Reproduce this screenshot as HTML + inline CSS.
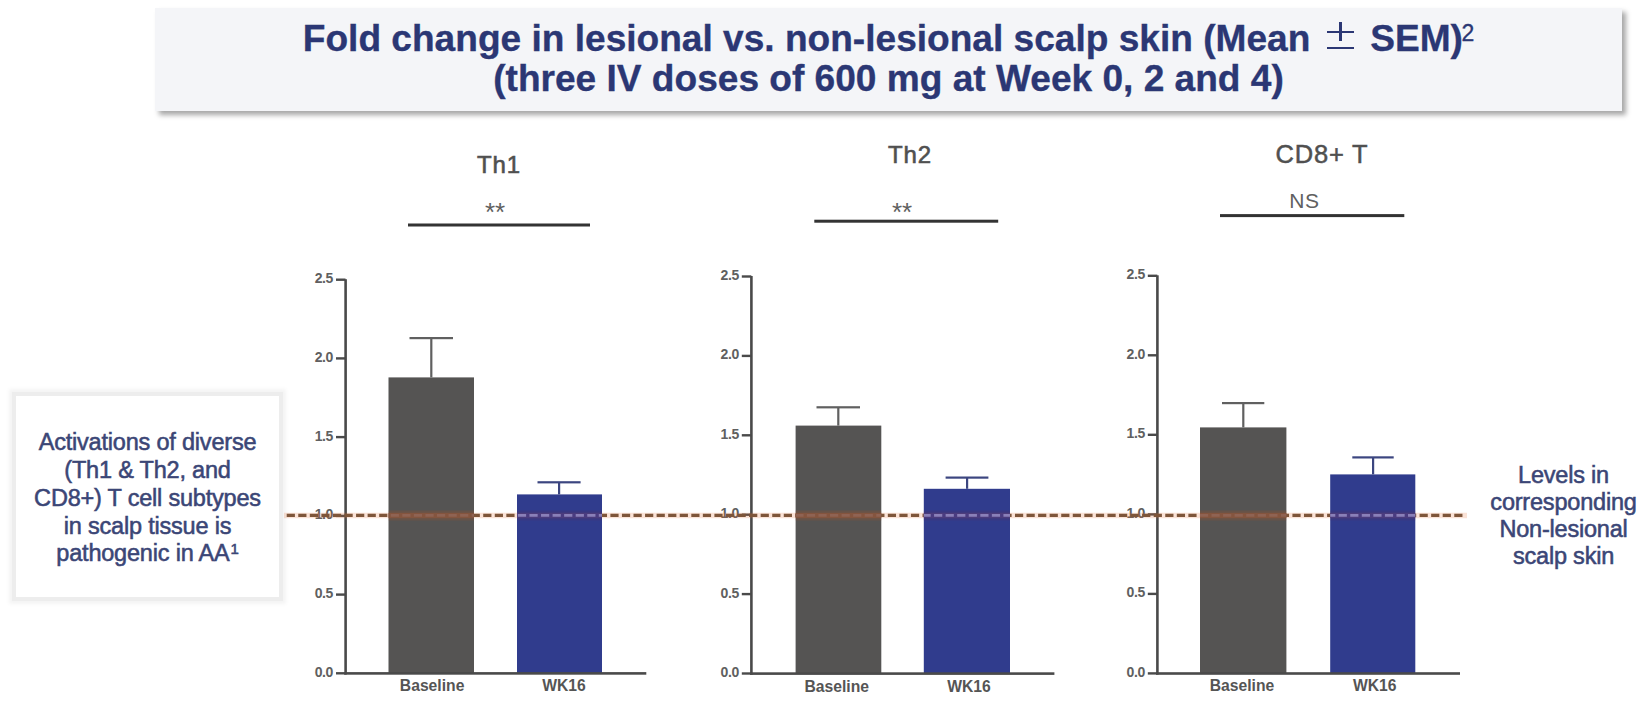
<!DOCTYPE html>
<html><head><meta charset="utf-8">
<style>
html,body{margin:0;padding:0;background:#fff;}
body{width:1647px;height:704px;position:relative;overflow:hidden;font-family:"Liberation Sans",sans-serif;}
#title{position:absolute;left:155px;top:8px;width:1467px;height:103px;background:#f4f5f8;box-shadow:4px 4px 5px rgba(0,0,0,0.35);}
#title .l{position:absolute;left:0;width:100%;text-align:center;font-weight:bold;font-size:37.1px;color:#2b3774;-webkit-text-stroke:0.35px #2b3774;white-space:nowrap;line-height:40px;}
#lbox{position:absolute;left:16px;top:396px;width:263px;height:201px;background:#fff;box-shadow:0 0 0 4px #ededed,0 0 4px 7px #f4f4f4;}
.bt{position:absolute;text-align:center;color:#3b4676;-webkit-text-stroke:0.55px #3b4676;font-size:23.5px;letter-spacing:-0.2px;white-space:nowrap;line-height:27.8px;}
svg{position:absolute;left:0;top:0;}
.pm{display:inline-block;position:relative;width:26.7px;height:29px;margin-left:17px;margin-right:16.2px;vertical-align:baseline;}
.pm i{position:absolute;background:#2b3774;}
.sup{font-weight:normal;font-size:23px;vertical-align:baseline;position:relative;top:-10.5px;margin-left:-1.5px;}
</style></head><body>
<div id="title">
<div class="l" style="top:10px;">Fold change in lesional vs. non-lesional scalp skin (Mean<span class="pm"><i style="left:0;top:8.8px;width:26.7px;height:2.5px;"></i><i style="left:12.1px;top:0.3px;width:2.5px;height:18.8px;"></i><i style="left:0;top:24.8px;width:26.7px;height:2.5px;"></i></span>SEM)<span class="sup">2</span></div>
<div class="l" style="top:49.5px;">(three IV doses of 600 mg at Week 0, 2 and 4)</div>
</div>
<div id="lbox"></div>
<div class="bt" style="left:16px;width:263px;top:429.3px;">Activations of diverse<br>(Th1 &amp; Th2, and<br>CD8+) T cell subtypes<br>in scalp tissue is<br>pathogenic in AA<span style="font-size:15px;position:relative;top:-7px;margin-left:1px;">1</span></div>
<div class="bt" style="left:1480px;width:167px;top:461.5px;line-height:27.3px;">Levels in<br>corresponding<br>Non-lesional<br>scalp skin</div>
<svg width="1647" height="704" viewBox="0 0 1647 704" font-family="Liberation Sans">
<rect x="388.5" y="377.4" width="85.5" height="295.9" fill="#555453"/>
<rect x="517.0" y="494.4" width="85.0" height="178.9" fill="#303c8d"/>
<rect x="409.5" y="337.0" width="43.5" height="2.2" fill="#606060"/>
<rect x="430.2" y="338.0" width="2.2" height="39.4" fill="#606060"/>
<rect x="537.5" y="481.2" width="43.1" height="2.2" fill="#3c4680"/>
<rect x="558.0" y="482.2" width="2.2" height="12.2" fill="#3c4680"/>
<rect x="344.3" y="279.2" width="2.6" height="395.3" fill="#4a4a4a"/>
<rect x="344.3" y="672.1" width="302.0" height="2.6" fill="#4a4a4a"/>
<rect x="336.0" y="278.5" width="9.5" height="2.4" fill="#4a4a4a"/>
<text x="333.0" y="283.1" font-size="14" letter-spacing="-0.4" font-weight="bold" text-anchor="end" fill="#606060">2.5</text>
<rect x="336.0" y="357.2" width="9.5" height="2.4" fill="#4a4a4a"/>
<text x="333.0" y="361.8" font-size="14" letter-spacing="-0.4" font-weight="bold" text-anchor="end" fill="#606060">2.0</text>
<rect x="336.0" y="435.9" width="9.5" height="2.4" fill="#4a4a4a"/>
<text x="333.0" y="440.5" font-size="14" letter-spacing="-0.4" font-weight="bold" text-anchor="end" fill="#606060">1.5</text>
<rect x="336.0" y="514.7" width="9.5" height="2.4" fill="#4a4a4a"/>
<text x="333.0" y="519.3" font-size="14" letter-spacing="-0.4" font-weight="bold" text-anchor="end" fill="#606060">1.0</text>
<rect x="336.0" y="593.4" width="9.5" height="2.4" fill="#4a4a4a"/>
<text x="333.0" y="598.0" font-size="14" letter-spacing="-0.4" font-weight="bold" text-anchor="end" fill="#606060">0.5</text>
<rect x="336.0" y="672.1" width="9.5" height="2.4" fill="#4a4a4a"/>
<text x="333.0" y="676.7" font-size="14" letter-spacing="-0.4" font-weight="bold" text-anchor="end" fill="#606060">0.0</text>
<text x="432.1" y="691.3" font-size="15.7" font-weight="bold" text-anchor="middle" fill="#555">Baseline</text>
<text x="564.0" y="691.3" font-size="15.7" font-weight="bold" text-anchor="middle" fill="#555">WK16</text>
<text x="499" y="172.5" font-size="24" font-weight="normal" letter-spacing="0.8" text-anchor="middle" fill="#505050" stroke="#505050" stroke-width="0.6">Th1</text>
<text x="495" y="221" font-size="26" letter-spacing="0" text-anchor="middle" fill="#606060">**</text>
<rect x="408" y="223.5" width="182.0" height="3" fill="#333"/>
<rect x="795.6" y="425.6" width="85.7" height="247.9" fill="#555453"/>
<rect x="923.8" y="488.8" width="86.2" height="184.7" fill="#303c8d"/>
<rect x="816.5" y="406.2" width="43.5" height="2.2" fill="#606060"/>
<rect x="837.2" y="407.2" width="2.2" height="18.4" fill="#606060"/>
<rect x="945.6" y="476.5" width="42.8" height="2.2" fill="#3c4680"/>
<rect x="966.0" y="477.5" width="2.2" height="11.3" fill="#3c4680"/>
<rect x="750.1" y="276.0" width="2.6" height="398.7" fill="#4a4a4a"/>
<rect x="750.1" y="672.3" width="304.3" height="2.6" fill="#4a4a4a"/>
<rect x="741.8" y="275.3" width="9.5" height="2.4" fill="#4a4a4a"/>
<text x="738.8" y="279.9" font-size="14" letter-spacing="-0.4" font-weight="bold" text-anchor="end" fill="#606060">2.5</text>
<rect x="741.8" y="354.7" width="9.5" height="2.4" fill="#4a4a4a"/>
<text x="738.8" y="359.3" font-size="14" letter-spacing="-0.4" font-weight="bold" text-anchor="end" fill="#606060">2.0</text>
<rect x="741.8" y="434.1" width="9.5" height="2.4" fill="#4a4a4a"/>
<text x="738.8" y="438.7" font-size="14" letter-spacing="-0.4" font-weight="bold" text-anchor="end" fill="#606060">1.5</text>
<rect x="741.8" y="513.5" width="9.5" height="2.4" fill="#4a4a4a"/>
<text x="738.8" y="518.1" font-size="14" letter-spacing="-0.4" font-weight="bold" text-anchor="end" fill="#606060">1.0</text>
<rect x="741.8" y="592.9" width="9.5" height="2.4" fill="#4a4a4a"/>
<text x="738.8" y="597.5" font-size="14" letter-spacing="-0.4" font-weight="bold" text-anchor="end" fill="#606060">0.5</text>
<rect x="741.8" y="672.3" width="9.5" height="2.4" fill="#4a4a4a"/>
<text x="738.8" y="676.9" font-size="14" letter-spacing="-0.4" font-weight="bold" text-anchor="end" fill="#606060">0.0</text>
<text x="836.7" y="691.5" font-size="15.7" font-weight="bold" text-anchor="middle" fill="#555">Baseline</text>
<text x="969.0" y="691.5" font-size="15.7" font-weight="bold" text-anchor="middle" fill="#555">WK16</text>
<text x="910" y="163" font-size="24" font-weight="normal" letter-spacing="0.8" text-anchor="middle" fill="#505050" stroke="#505050" stroke-width="0.6">Th2</text>
<text x="902" y="221" font-size="26" letter-spacing="0" text-anchor="middle" fill="#606060">**</text>
<rect x="814.3" y="219.7" width="183.9" height="3" fill="#333"/>
<rect x="1200.0" y="427.4" width="86.4" height="246.0" fill="#555453"/>
<rect x="1330.2" y="474.4" width="85.1" height="199.0" fill="#303c8d"/>
<rect x="1222.0" y="402.0" width="42.3" height="2.2" fill="#606060"/>
<rect x="1242.2" y="403.0" width="2.2" height="24.4" fill="#606060"/>
<rect x="1352.3" y="456.3" width="41.4" height="2.2" fill="#3c4680"/>
<rect x="1372.0" y="457.3" width="2.2" height="17.1" fill="#3c4680"/>
<rect x="1156.1" y="275.3" width="2.6" height="399.3" fill="#4a4a4a"/>
<rect x="1156.1" y="672.2" width="303.9" height="2.6" fill="#4a4a4a"/>
<rect x="1147.8" y="274.6" width="9.5" height="2.4" fill="#4a4a4a"/>
<text x="1144.8" y="279.2" font-size="14" letter-spacing="-0.4" font-weight="bold" text-anchor="end" fill="#606060">2.5</text>
<rect x="1147.8" y="354.1" width="9.5" height="2.4" fill="#4a4a4a"/>
<text x="1144.8" y="358.7" font-size="14" letter-spacing="-0.4" font-weight="bold" text-anchor="end" fill="#606060">2.0</text>
<rect x="1147.8" y="433.6" width="9.5" height="2.4" fill="#4a4a4a"/>
<text x="1144.8" y="438.2" font-size="14" letter-spacing="-0.4" font-weight="bold" text-anchor="end" fill="#606060">1.5</text>
<rect x="1147.8" y="513.2" width="9.5" height="2.4" fill="#4a4a4a"/>
<text x="1144.8" y="517.8" font-size="14" letter-spacing="-0.4" font-weight="bold" text-anchor="end" fill="#606060">1.0</text>
<rect x="1147.8" y="592.7" width="9.5" height="2.4" fill="#4a4a4a"/>
<text x="1144.8" y="597.3" font-size="14" letter-spacing="-0.4" font-weight="bold" text-anchor="end" fill="#606060">0.5</text>
<rect x="1147.8" y="672.2" width="9.5" height="2.4" fill="#4a4a4a"/>
<text x="1144.8" y="676.8" font-size="14" letter-spacing="-0.4" font-weight="bold" text-anchor="end" fill="#606060">0.0</text>
<text x="1242.0" y="691.4" font-size="15.7" font-weight="bold" text-anchor="middle" fill="#555">Baseline</text>
<text x="1374.7" y="691.4" font-size="15.7" font-weight="bold" text-anchor="middle" fill="#555">WK16</text>
<text x="1322" y="163" font-size="25.5" font-weight="normal" letter-spacing="0.8" text-anchor="middle" fill="#505050" stroke="#505050" stroke-width="0.5">CD8+ T</text>
<text x="1304.5" y="207.8" font-size="21" letter-spacing="0.6" text-anchor="middle" fill="#606060">NS</text>
<rect x="1220" y="214.1" width="184.3" height="3" fill="#333"/>
<defs><clipPath id="cg"><rect x="388.5" y="505" width="85.5" height="20"/><rect x="795.6" y="505" width="85.7" height="20"/><rect x="1200.0" y="505" width="86.4" height="20"/></clipPath><clipPath id="cb"><rect x="517.0" y="505" width="85.0" height="20"/><rect x="923.8" y="505" width="86.2" height="20"/><rect x="1330.2" y="505" width="85.1" height="20"/></clipPath></defs>
<line x1="284" y1="515.4" x2="1467" y2="515.4" stroke="rgba(230,110,50,0.2)" stroke-width="5.5"/>
<line x1="286.7" y1="515.4" x2="1464" y2="515.4" stroke="#7e563a" stroke-width="3.3" stroke-dasharray="8.2 3.36"/>
<g clip-path="url(#cg)"><rect x="0" y="510.5" width="1647" height="10" fill="rgba(160,80,40,0.25)"/><rect x="0" y="513.2" width="1647" height="4.6" fill="#85553f"/><line x1="286.7" y1="515.4" x2="1464" y2="515.4" stroke="#8f6353" stroke-width="2.6" stroke-dasharray="8.2 3.36"/></g>
<g clip-path="url(#cb)"><rect x="0" y="510.5" width="1647" height="10" fill="rgba(90,40,90,0.2)"/><rect x="0" y="513.2" width="1647" height="4.6" fill="#4a3c80"/><line x1="286.7" y1="515.4" x2="1464" y2="515.4" stroke="#8a80b8" stroke-width="2.6" stroke-dasharray="8.2 3.36"/></g>
</svg>
</body></html>
